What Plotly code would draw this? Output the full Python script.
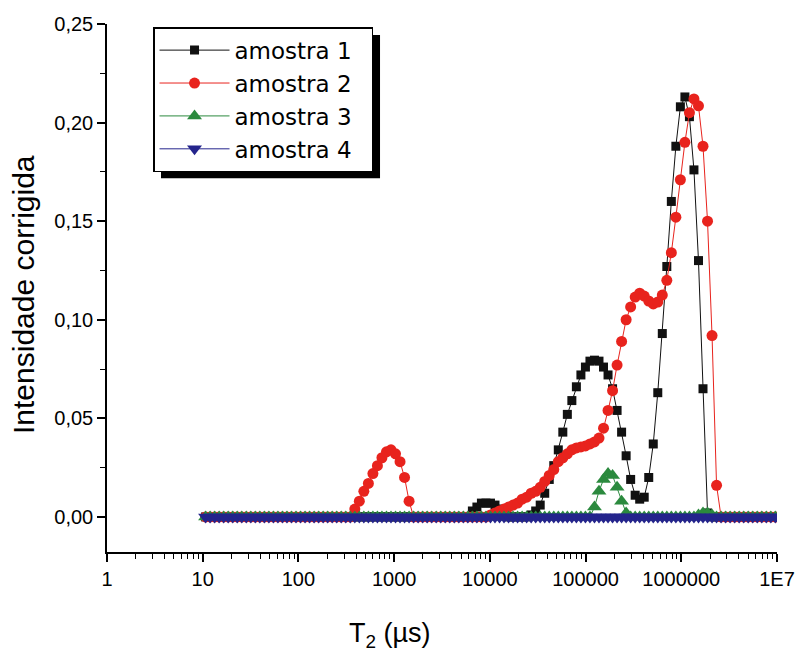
import numpy as np
import plotly.graph_objects as go

# T2 grid (instrument's log-spaced grid, 128 points, first point just above 10 µs)
t2 = np.logspace(1.03, 7.03, 128)

series_names = ["amostra 1", "amostra 2", "amostra 3", "amostra 4"]

amostra1 = ([0.0] * 58 +
            [0.000, 0.003, 0.005, 0.007, 0.007, 0.007, 0.006, 0.004, 0.002, 0.000,
             0.000, 0.000, 0.000, 0.000, 0.001, 0.003, 0.006, 0.012, 0.019, 0.026,
             0.034, 0.043, 0.052, 0.059, 0.066, 0.072, 0.076, 0.079, 0.0795, 0.079,
             0.076, 0.072, 0.065, 0.054, 0.043, 0.031, 0.019, 0.011, 0.009, 0.010,
             0.020, 0.037, 0.063, 0.093, 0.127, 0.160, 0.188, 0.208, 0.213, 0.203,
             0.176, 0.130, 0.065, 0.002] +
            [0.0] * 16)

amostra2 = ([0.0] * 33 +
            [0.004, 0.008, 0.013, 0.017, 0.022, 0.026, 0.030, 0.033, 0.034, 0.032,
             0.028, 0.020, 0.008] +
            [0.0] * 17 +
            [0.001, 0.002, 0.003, 0.004, 0.005, 0.006, 0.007, 0.009, 0.010, 0.012,
             0.013, 0.015, 0.018, 0.021, 0.024, 0.028, 0.030, 0.032, 0.034, 0.035,
             0.0355, 0.036, 0.037, 0.038, 0.040, 0.045, 0.054, 0.064, 0.077, 0.089,
             0.100, 0.1065, 0.1115, 0.1135, 0.112, 0.1095, 0.108, 0.109, 0.1125, 0.120,
             0.134, 0.152, 0.171, 0.190, 0.205, 0.212, 0.2085, 0.188, 0.150, 0.092,
             0.016] +
            [0.0] * 14)

amostra3 = ([0.0] * 86 +
            [0.005, 0.013, 0.019, 0.022, 0.021, 0.015, 0.008, 0.002] +
            [0.0] * 15 +
            [0.001, 0.002, 0.002, 0.001] +
            [0.0] * 15)

amostra4 = [0.0] * 128

x_tickvals = [1, 10, 100, 1000, 10000, 100000, 1000000, 10000000]
x_ticktext = ["1", "10", "100", "1000", "10000", "100000", "1000000", "1E7"]
y_tickvals = [0.00, 0.05, 0.10, 0.15, 0.20, 0.25]

colors = ["#111111", "#e8231d", "#2b8a3e", "#24248c"]
symbols = ["square", "circle", "triangle-up", "triangle-down"]
sizes = [9, 11, 13, 13]
values = [amostra1, amostra2, amostra3, amostra4]

FONT = "Liberation Sans, Arial, sans-serif"
LFONT = "DejaVu Sans, Liberation Sans, sans-serif"
PAD = "\u00a0\u00a0"  # right padding inside the legend box

fig = go.Figure()
for name, vals, c, s, sz in zip(series_names, values, colors, symbols, sizes):
    fig.add_trace(go.Scatter(
        x=t2, y=vals, name=name + PAD, mode="lines+markers",
        line=dict(color=c, width=1),
        marker=dict(symbol=s, size=sz, color=c, line=dict(width=0)),
    ))

# legend shadow
fig.add_shape(type="rect", xref="paper", yref="paper",
              x0=0.0806, x1=0.4075, y0=0.708, y1=0.979,
              fillcolor="black", line=dict(width=0), layer="above")

# axis titles (positioned as in the original)
fig.add_annotation(text="T<sub>2</sub> (\u00b5s)", xref="paper", yref="paper",
                   x=0.422, y=-0.157, xanchor="center", yanchor="middle",
                   showarrow=False, font=dict(size=27, family=FONT, color="black"))
fig.add_annotation(text="Intensidade corrigida", xref="paper", yref="paper",
                   x=-0.1254, y=0.4886, xanchor="center", yanchor="middle",
                   textangle=-90, showarrow=False,
                   font=dict(size=30, family=FONT, color="black"))

fig.update_layout(
    width=795, height=652,
    margin=dict(l=107, r=18, t=24, b=100),
    paper_bgcolor="white", plot_bgcolor="white",
    separators=",.",
    font=dict(family=FONT, color="black"),
    showlegend=True,
    legend=dict(
        x=0.0687, y=0.994, xanchor="left", yanchor="top",
        bgcolor="white", bordercolor="black", borderwidth=1.5,
        font=dict(size=23, family=LFONT, color="black"),
        itemwidth=70, tracegroupgap=0,
    ),
    xaxis=dict(
        type="log", range=[0, 7], automargin=False,
        tickvals=x_tickvals, ticktext=x_ticktext,
        ticks="outside", ticklen=8, tickwidth=1.5, tickcolor="black",
        showline=True, linecolor="black", linewidth=1.5,
        showgrid=False, zeroline=False,
        tickfont=dict(size=20, family=FONT),
        minor=dict(ticks="outside", ticklen=5, tickwidth=1.2, tickcolor="black",
                   dtick="D1", showgrid=False),
    ),
    yaxis=dict(
        range=[-0.0178, 0.25], automargin=False,
        tickvals=y_tickvals, tickformat=".2f",
        ticks="outside", ticklen=8, tickwidth=1.5, tickcolor="black",
        showline=True, linecolor="black", linewidth=1.5,
        showgrid=False, zeroline=False,
        tickfont=dict(size=20, family=FONT),
        minor=dict(ticks="outside", ticklen=5, tickwidth=1.2, tickcolor="black",
                   tickvals=[-0.025, 0.025, 0.075, 0.125, 0.175, 0.225], showgrid=False),
    ),
)

fig.write_html("out.html")
